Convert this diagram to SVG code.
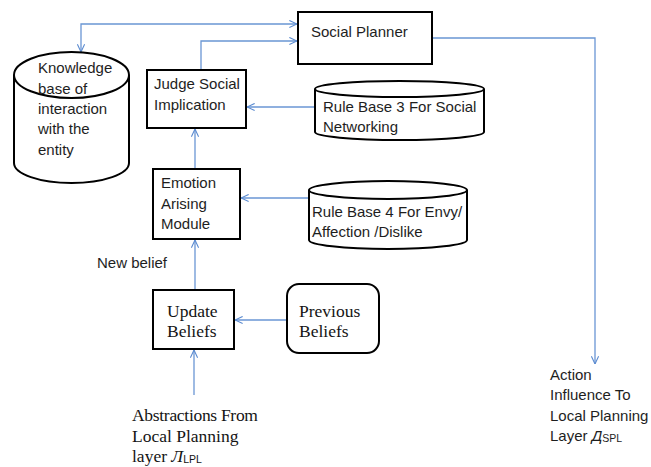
<svg xmlns="http://www.w3.org/2000/svg" width="651" height="467" viewBox="0 0 651 467">
  <defs>
    <marker id="arrow" viewBox="0 0 10 10" refX="9.5" refY="5" markerWidth="9" markerHeight="9" markerUnits="userSpaceOnUse" orient="auto-start-reverse">
      <path d="M1,1 L9.5,5 L1,9" fill="none" stroke="#5B8BD0" stroke-width="1.2"/>
    </marker>
    <style>
      .box { fill: #ffffff; stroke: #000000; stroke-width: 2; }
      .conn { fill: none; stroke: #6A96D4; stroke-width: 1.3; }
      .sans { font-family: "Liberation Sans", Arial, sans-serif; font-size: 15px; fill: #1e1e1e; }
      .serif { font-family: "Liberation Serif", "Times New Roman", serif; font-size: 17.5px; fill: #141414; }
      .sub { font-family: "Liberation Sans", Arial, sans-serif; font-size: 10.5px; }
    </style>
  </defs>
  <rect width="651" height="467" fill="#ffffff"/>

  <!-- connectors -->
  <g id="connectors">
    <!-- knowledge base <-> social planner -->
    <path class="conn" d="M81,52 L81,24 L297,24" marker-start="url(#arrow)" marker-end="url(#arrow)"/>
    <!-- judge -> social planner -->
    <path class="conn" d="M201,69 L201,41 L297,41" marker-end="url(#arrow)"/>
    <!-- social planner -> action influence -->
    <path class="conn" d="M433,38 L595,38 L595,364" marker-end="url(#arrow)"/>
    <!-- rule base 3 -> judge -->
    <path class="conn" d="M316,107 L247,107" marker-end="url(#arrow)"/>
    <!-- emotion -> judge -->
    <path class="conn" d="M195,168 L195,129" marker-end="url(#arrow)"/>
    <!-- rule base 4 -> emotion -->
    <path class="conn" d="M309,198 L241,198" marker-end="url(#arrow)"/>
    <!-- update -> emotion -->
    <path class="conn" d="M195,289 L195,240" marker-end="url(#arrow)"/>
    <!-- previous -> update -->
    <path class="conn" d="M287,320 L235,320" marker-end="url(#arrow)"/>
    <!-- abstractions -> update -->
    <path class="conn" d="M194,395 L194,350" marker-end="url(#arrow)"/>
  </g>

  <!-- social planner -->
  <g id="social-planner">
    <rect class="box" x="298" y="12" width="134" height="52"/>
    <text class="sans" x="311" y="37">Social Planner</text>
  </g>

  <!-- knowledge base cylinder -->
  <g id="knowledge-base">
    <path class="box" d="M14,75 L14,163 A57.5,20 0 0 0 129,163 L129,75"/>
    <ellipse class="box" cx="71.5" cy="75" rx="57.5" ry="23"/>
    <text class="sans" x="38" y="73">Knowledge</text>
    <text class="sans" x="38" y="93.5">base of</text>
    <text class="sans" x="38" y="114">interaction</text>
    <text class="sans" x="38" y="134">with the</text>
    <text class="sans" x="38" y="154.5">entity</text>
  </g>

  <!-- judge social implication -->
  <g id="judge">
    <rect class="box" x="147" y="70" width="99" height="58"/>
    <text class="sans" x="154" y="89">Judge Social</text>
    <text class="sans" x="154" y="110">Implication</text>
  </g>

  <!-- rule base 3 -->
  <g id="rule-base-3">
    <path class="box" d="M315,89 L315,132 A84.5,8 0 0 0 484,132 L484,89"/>
    <ellipse class="box" cx="399.5" cy="89" rx="84.5" ry="8"/>
    <text class="sans" x="323" y="112">Rule Base 3 For Social</text>
    <text class="sans" x="323" y="132">Networking</text>
  </g>

  <!-- emotion arising module -->
  <g id="emotion">
    <rect class="box" x="153" y="169" width="87" height="70"/>
    <text class="sans" x="161" y="188">Emotion</text>
    <text class="sans" x="161" y="209">Arising</text>
    <text class="sans" x="161" y="229">Module</text>
  </g>

  <!-- rule base 4 -->
  <g id="rule-base-4">
    <path class="box" d="M309,190 L309,240 A79,9 0 0 0 467,240 L467,190"/>
    <ellipse class="box" cx="388" cy="190" rx="79" ry="9"/>
    <text class="sans" x="312" y="217">Rule Base 4 For Envy/</text>
    <text class="sans" x="312" y="237">Affection /Dislike</text>
  </g>

  <!-- new belief label -->
  <g id="new-belief">
    <text class="sans" x="97" y="268" fill="#333333">New belief</text>
  </g>

  <!-- update beliefs -->
  <g id="update-beliefs">
    <rect class="box" x="153" y="290" width="81" height="59"/>
    <text class="serif" x="167" y="317">Update</text>
    <text class="serif" x="167" y="337">Beliefs</text>
  </g>

  <!-- previous beliefs -->
  <g id="previous-beliefs">
    <rect class="box" x="287" y="284" width="92" height="69" rx="12" ry="12"/>
    <text class="serif" x="299" y="317">Previous</text>
    <text class="serif" x="299" y="337">Beliefs</text>
  </g>

  <!-- abstractions source -->
  <g id="abstractions">
    <text class="serif" x="132" y="421" letter-spacing="-0.3">Abstractions From</text>
    <text class="serif" x="132" y="442">Local Planning</text>
    <text class="serif" x="132" y="462">layer <tspan font-style="italic">Л</tspan><tspan class="sub" dy="1">LPL</tspan></text>
  </g>

  <!-- action influence target -->
  <g id="action-influence">
    <text class="sans" x="550" y="380">Action</text>
    <text class="sans" x="550" y="400">Influence To</text>
    <text class="sans" x="550" y="421">Local Planning</text>
    <text class="sans" x="550" y="441">Layer <tspan font-style="italic">Д</tspan><tspan class="sub" dy="1">SPL</tspan></text>
  </g>
</svg>
